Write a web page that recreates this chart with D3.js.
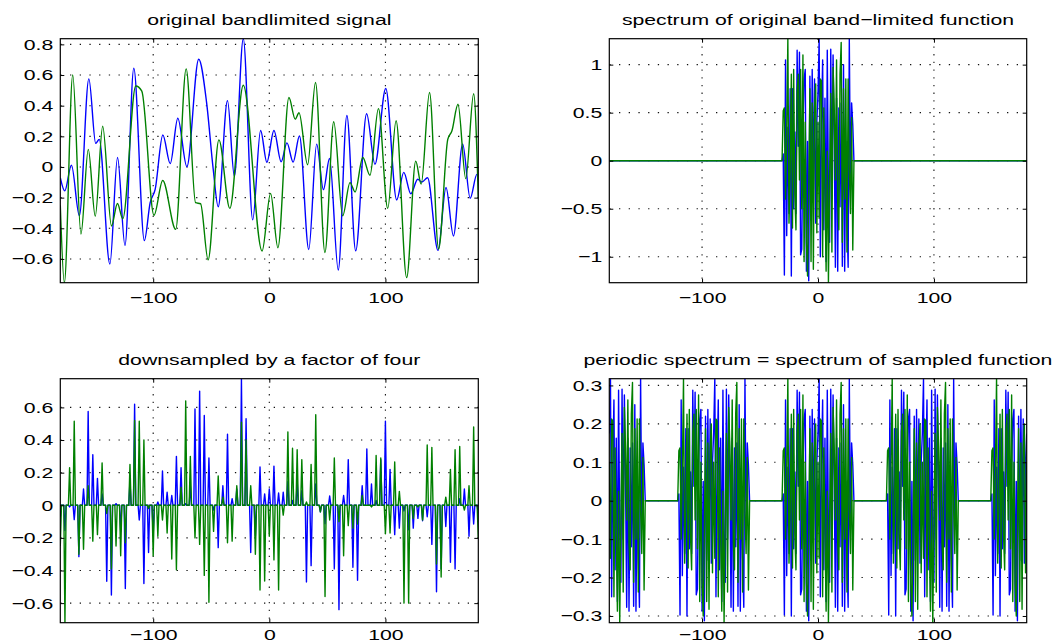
<!DOCTYPE html>
<html>
<head>
<meta charset="utf-8">
<script src="https://cdn.jsdelivr.net/npm/d3@7"></script>
<style>
  html, body { margin: 0; padding: 0; background: #fff; }
  svg { display: block; }
</style>
</head>
<body>
<svg id="fig" width="1057" height="644"></svg>
<script>
// ---------- data ----------
const xRange = [-180, 180];
const xTicks = [-100, 0, 100];

const signalYTicks   = [-0.6, -0.4, -0.2, 0, 0.2, 0.4, 0.6, 0.8];
const spectrumYTicks = [-1, -0.5, 0, 0.5, 1];
const sampledYTicks  = [-0.6, -0.4, -0.2, 0, 0.2, 0.4, 0.6];
const periodicYTicks = [-0.3, -0.2, -0.1, 0, 0.1, 0.2, 0.3];

// band-limited signal, real part (turning points of the curve)
const signalRe = [
  [-180,-0.07],[-176.2,-0.156],[-170.4,0.012],[-163.6,-0.317],[-155.4,0.575],[-149.5,0.154],
  [-146.5,0.18],[-137.3,-0.634],[-130.7,0.062],[-124.3,-0.512],[-116.7,0.644],[-107.6,-0.48],
  [-102.6,-0.233],[-98.3,-0.146],[-91.7,0.209],[-85.3,0.022],[-78.8,0.318],[-71,0.002],
  [-60.8,0.703],[-54,0.42],[-48.3,-0.015],[-44,-0.259],[-36,0.433],[-30.1,-0.06],
  [-22.4,0.837],[-14.3,-0.345],[-7.5,0.238],[-2.1,0.031],[4,0.238],[10.2,0.034],
  [15.2,0.157],[20.5,0.032],[26,0.202],[34,-0.538],[40.8,0.149],[46.6,-0.148],
  [51.9,0.055],[59.4,-0.672],[66.8,0.336],[74.4,-0.547],[83.8,0.347],[91,0.018],
  [100.3,0.512],[109.7,-0.215],[115.8,-0.035],[121.9,-0.175],[127.8,-0.08],[131.4,-0.098],
  [136.3,-0.07],[145.3,-0.545],[152.2,-0.134],[158.6,-0.45],[166.5,0.151],[173,-0.204],
  [178.8,-0.048],[180,-0.055]
];
// band-limited signal, imaginary part
const signalIm = [
  [-180,-0.25],[-176.5,-0.755],[-169.3,0.6],[-162.2,-0.438],[-155.9,0.115],[-149.9,-0.321],
  [-143.5,0.266],[-135.9,-0.385],[-130.8,-0.238],[-126.2,-0.338],[-115,0.528],[-109.8,0.495],
  [-99.3,-0.315],[-91.8,-0.088],[-80.6,-0.407],[-71.6,0.64],[-63.5,-0.233],[-59.2,-0.24],
  [-52.7,-0.606],[-43.4,0.177],[-34,-0.27],[-22.4,0.533],[-6.2,-0.548],[1.1,-0.172],
  [7.4,-0.527],[16.9,0.453],[22.3,0.312],[25.6,0.354],[33,0.015],[39.8,0.551],
  [47.9,-0.558],[55.5,0.295],[63.2,-0.319],[69.5,-0.102],[73.9,-0.163],[80.5,0.062],
  [86.7,-0.054],[94,0.381],[102,-0.27],[109.2,0.302],[118.3,-0.722],[126.1,0.038],
  [130.8,-0.112],[138,0.486],[145.8,-0.535],[153.7,0.18],[157.3,0.236],[162.5,0.409],
  [169.2,-0.076],[176,0.478],[180,-0.2]
];

// every fourth sample kept (x = -180, -176, ..., 180); all others are zero
const downFactor = 4;
const sampleStart = -180;
const samplesRe = [
  -0.07,-0.155,-0.01,-0.088,-0.315,0.10,0.575,0.31,0.165,0.07,-0.466,-0.55,0.01,-0.16,-0.51,0.15,
  0.62,-0.09,-0.48,-0.29,-0.18,0.02,0.21,0.08,0.06,0.30,0.23,0.01,0.12,0.59,0.70,0.55,
  0.29,-0.03,-0.26,0.12,0.435,0.04,0.10,0.776,0.53,-0.29,-0.19,0.235,0.07,0.10,0.24,0.075,
  0.08,0.145,0.03,0.15,0.09,-0.47,-0.37,0.13,-0.04,-0.113,0.057,-0.39,-0.64,0.06,0.28,-0.38,
  -0.46,0.12,0.345,0.13,0.03,0.28,0.515,0.22,-0.18,-0.14,-0.035,-0.15,-0.14,-0.08,-0.095,-0.07,
  -0.24,-0.53,-0.39,-0.13,-0.35,-0.39,0.04,0.10,-0.19,-0.115,-0.05
];
const samplesIm = [
  -0.25,-0.72,0.23,0.515,-0.30,-0.27,0.12,-0.22,-0.18,0.26,-0.05,-0.39,-0.25,-0.31,-0.23,0.25,
  0.52,0.515,0.40,-0.02,-0.31,-0.19,-0.09,-0.17,-0.33,-0.395,0.11,0.64,0.30,-0.20,-0.24,-0.43,
  -0.595,-0.16,0.18,0.05,-0.23,-0.22,0.12,0.51,0.40,0.12,-0.30,-0.52,-0.465,-0.19,-0.335,-0.52,
  -0.06,0.45,0.35,0.34,0.28,0.02,0.25,0.555,-0.04,-0.56,-0.09,0.29,-0.10,-0.31,-0.125,-0.14,
  -0.115,0.06,0.0,-0.01,0.305,0.29,-0.175,-0.17,0.265,0.085,-0.60,-0.60,-0.08,-0.01,-0.09,0.37,
  0.355,-0.36,-0.44,0.05,0.22,0.34,0.36,-0.03,0.12,0.48,-0.2
];

// spectrum of the band-limited function, bins k = -30 ... 30
const bandEdge = 30;
const spectrumRe = [
  0.07,-1.19,1.05,-0.78,0.35,-0.55,0.75,-1.20,0.75,-0.50,0.30,-0.55,1.15,0.15,1.13,-0.98,
  -0.92,0.33,0.85,0.95,-1.15,0.20,-1.25,0.88,-0.62,0.95,-0.30,0.85,-0.65,0.40,0.70,1.27,
  -1.00,0.38,1.05,-0.72,0.65,-1.05,1.15,-0.35,-0.85,1.16,-0.40,1.10,0.20,-1.11,0.65,-1.15,
  0.55,-0.48,0.60,-1.10,1.00,-1.15,0.20,-0.60,-1.11,1.27,-0.30,0.60,0.37
];
const spectrumIm = [
  0.52,0.55,-0.40,0.30,1.27,-0.65,-0.10,0.90,-0.70,0.95,-0.35,-0.72,0.72,0.90,-0.20,0.95,
  -0.50,1.10,-1.05,0.40,-0.85,-1.20,-0.30,0.75,-1.05,0.60,-1.13,0.55,0.80,-0.75,0.40,-0.60,
  0.85,0.83,-1.00,0.55,-0.35,-1.15,0.10,-1.27,-0.20,0.70,-0.95,0.97,0.55,-0.20,1.05,-0.45,
  -0.72,0.90,1.23,-0.85,0.75,-0.40,0.85,-0.95,0.85,-0.10,-0.55,0.45,-0.93
];
// period of the replicated spectrum after sampling
const spectrumPeriod = 90;

// ---------- series builders ----------
function combSeries(vals) {
  const pts = [];
  vals.forEach((v, i) => {
    const xs = sampleStart + i * downFactor;
    if (i > 0) pts.push([xs - 1, 0]);
    pts.push([xs, v]);
    if (i < vals.length - 1) pts.push([xs + 1, 0]);
  });
  return pts;
}
function spectrumSeries(vals) {
  const pts = [[xRange[0], 0], [-bandEdge - 1, 0]];
  vals.forEach((v, i) => pts.push([i - bandEdge, v]));
  pts.push([bandEdge + 1, 0], [xRange[1], 0]);
  return pts;
}
function periodicSeries(vals) {
  const pts = [];
  const half = spectrumPeriod / 2;
  for (let xv = xRange[0]; xv <= xRange[1]; xv++) {
    const k = (((xv + half) % spectrumPeriod) + spectrumPeriod) % spectrumPeriod - half;
    pts.push([xv, Math.abs(k) <= bandEdge ? vals[k + bandEdge] / downFactor : 0]);
  }
  return pts;
}

// ---------- drawing ----------
const svg = d3.select("#fig");
const FONT = '"Liberation Sans", Arial, Helvetica, sans-serif';
const FS = 15.5;       // font size
const SX = 1.37;       // horizontal text stretch of the figure
const BLUE = "#0000ff", GREEN = "#008000";
const fmt = d3.format("~g");
let clipCount = 0;

function stretchedText(g, x, y, str, anchor) {
  return g.append("text")
    .attr("transform", `translate(${x},${y}) scale(${SX},1)`)
    .attr("text-anchor", anchor)
    .attr("font-family", FONT)
    .attr("font-size", FS)
    .attr("fill", "#000")
    .text(str);
}

function panel(cfg) {
  const { left, right, top, bottom, yTicks, series, curve, title, xPad } = cfg;
  const all = series.flatMap(s => s.data.map(d => d[1]));
  const yDomain = d3.extent(all);
  const x = d3.scaleLinear().domain(xRange).range([left, right]);
  const y = d3.scaleLinear().domain(yDomain).range([bottom, top]);
  const g = svg.append("g");

  const cid = "clip" + (clipCount++);
  g.append("clipPath").attr("id", cid)
    .append("rect").attr("x", left).attr("y", top)
    .attr("width", right - left).attr("height", bottom - top);

  // dotted grid
  g.append("g").selectAll("line").data(xTicks).join("line")
    .attr("x1", d => x(d)).attr("x2", d => x(d))
    .attr("y1", top).attr("y2", bottom)
    .attr("stroke", "#111").attr("stroke-width", 1.1)
    .attr("stroke-dasharray", "1.3,6.4");
  g.append("g").selectAll("line").data(yTicks).join("line")
    .attr("x1", left).attr("x2", right)
    .attr("y1", d => y(d)).attr("y2", d => y(d))
    .attr("stroke", "#111").attr("stroke-width", 1.1)
    .attr("stroke-dasharray", "1.3,8.4");

  // data lines
  const line = d3.line().x(d => x(d[0])).y(d => y(d[1])).curve(curve);
  const lines = g.append("g").attr("clip-path", `url(#${cid})`);
  series.forEach(s => {
    lines.append("path").datum(s.data)
      .attr("d", line)
      .attr("fill", "none")
      .attr("stroke", s.color)
      .attr("stroke-width", 1.4)
      .attr("stroke-linejoin", "round");
  });

  // axes with inward ticks on all four sides
  const tl = 4;
  const axB = g.append("g").attr("transform", `translate(0,${bottom})`)
    .call(d3.axisBottom(x).tickValues(xTicks).tickSizeInner(-tl).tickSizeOuter(0)
      .tickPadding(xPad).tickFormat(fmt));
  const axL = g.append("g").attr("transform", `translate(${left},0)`)
    .call(d3.axisLeft(y).tickValues(yTicks).tickSizeInner(-tl).tickSizeOuter(0)
      .tickPadding(7).tickFormat(fmt));
  g.append("g").attr("transform", `translate(0,${top})`)
    .call(d3.axisTop(x).tickValues(xTicks).tickSizeInner(-tl).tickSizeOuter(0).tickFormat(() => ""));
  g.append("g").attr("transform", `translate(${right},0)`)
    .call(d3.axisRight(y).tickValues(yTicks).tickSizeInner(-tl).tickSizeOuter(0).tickFormat(() => ""));

  g.selectAll(".domain").remove();
  g.selectAll(".tick line").attr("stroke", "#000").attr("stroke-width", 1);
  [axB, axL].forEach(a => a.attr("font-family", FONT).attr("font-size", FS));
  axB.selectAll("text").attr("fill", "#000").attr("transform", `scale(${SX},1)`);
  axL.selectAll("text").attr("fill", "#000").attr("x", -7 / SX).attr("transform", `scale(${SX},1)`);

  // box
  g.append("rect")
    .attr("x", left).attr("y", top)
    .attr("width", right - left).attr("height", bottom - top)
    .attr("fill", "none").attr("stroke", "#000").attr("stroke-width", 1.2);

  stretchedText(g, (left + right) / 2, top - 13.7, title, "middle");
}

const colL = [60.3, 478.3], colR = [609.3, 1026.7];
const rowT = [38.7, 282.7], rowB = [378.7, 622.7];
const padTop = 9.6, padBottom = 6.2;

panel({
  left: colL[0], right: colL[1], top: rowT[0], bottom: rowT[1], xPad: padTop,
  yTicks: signalYTicks, curve: d3.curveMonotoneX,
  title: "original bandlimited signal",
  series: [{ data: signalRe, color: BLUE }, { data: signalIm, color: GREEN }]
});
panel({
  left: colR[0], right: colR[1], top: rowT[0], bottom: rowT[1], xPad: padTop,
  yTicks: spectrumYTicks, curve: d3.curveLinear,
  title: "spectrum of original band\u2212limited function",
  series: [{ data: spectrumSeries(spectrumRe), color: BLUE }, { data: spectrumSeries(spectrumIm), color: GREEN }]
});
panel({
  left: colL[0], right: colL[1], top: rowB[0], bottom: rowB[1], xPad: padBottom,
  yTicks: sampledYTicks, curve: d3.curveLinear,
  title: "downsampled by a factor of four",
  series: [{ data: combSeries(samplesRe), color: BLUE }, { data: combSeries(samplesIm), color: GREEN }]
});
panel({
  left: colR[0], right: colR[1], top: rowB[0], bottom: rowB[1], xPad: padBottom,
  yTicks: periodicYTicks, curve: d3.curveLinear,
  title: "periodic spectrum = spectrum of sampled function",
  series: [{ data: periodicSeries(spectrumRe), color: BLUE }, { data: periodicSeries(spectrumIm), color: GREEN }]
});
</script>
</body>
</html>
